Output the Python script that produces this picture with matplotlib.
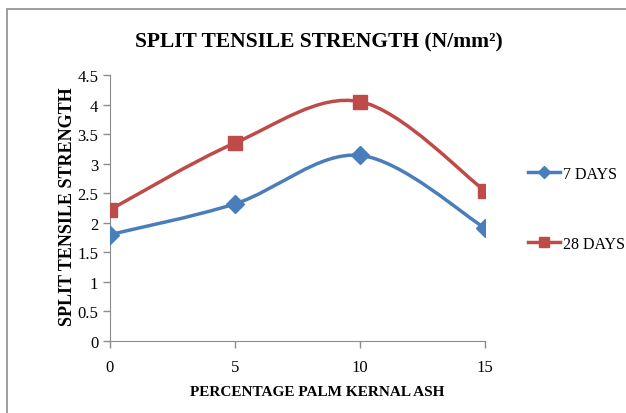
import numpy as np
import matplotlib.pyplot as plt
from matplotlib.path import Path
from matplotlib.patches import PathPatch, Rectangle
from matplotlib.lines import Line2D

plt.rcParams['font.family'] = ['Liberation Serif', 'DejaVu Serif']

pka = [0, 5, 10, 15]
days7 = [1.80, 2.32, 3.14, 1.91]
days28 = [2.22, 3.35, 4.05, 2.54]

blue = '#4a7ebb'
red = '#be4b48'


def smooth_path(x, y):
    # Excel-style smoothed line: Catmull-Rom segments as cubic Beziers
    x = np.asarray(x, float)
    y = np.asarray(y, float)
    n = len(x)
    verts = [(x[0], y[0])]
    codes = [Path.MOVETO]
    for i in range(n - 1):
        p0 = i - 1 if i > 0 else i
        p3 = i + 2 if i + 2 < n else i + 1
        c1 = (x[i] + (x[i + 1] - x[p0]) / 6, y[i] + (y[i + 1] - y[p0]) / 6)
        c2 = (x[i + 1] - (x[p3] - x[i]) / 6, y[i + 1] - (y[p3] - y[i]) / 6)
        verts += [c1, c2, (x[i + 1], y[i + 1])]
        codes += [Path.CURVE4] * 3
    return Path(verts, codes)


fig = plt.figure(figsize=(6.26, 4.14), dpi=100)
ax = fig.add_axes([0.1757, 0.174, 0.599, 0.6424])

# outer chart border (cropped at right and bottom)
fig.patches.append(Rectangle((7 / 626, -0.1), 1.2, 1.1 - 10 / 414, transform=fig.transFigure,
                             fill=False, ec='#8c8c8c', lw=1.2))

for vals, col, mk, ms in [(days7, blue, 'D', 9), (days28, red, 's', 9.5)]:
    ax.add_patch(PathPatch(smooth_path(pka, vals), fill=False, ec=col, lw=2.5, zorder=2))
    ax.plot(pka, vals, ls='none', marker=mk, ms=ms, color=col, zorder=3)

ax.set_xlim(0, 15)
ax.set_ylim(0, 4.5)
ax.set_xticks(pka)
ax.set_xticklabels([str(v) for v in pka])
ax.set_yticks(np.arange(0, 4.51, 0.5))
ax.set_yticklabels(['0', '0.5', '1', '1.5', '2', '2.5', '3', '3.5', '4', '4.5'])
ax.tick_params(labelsize=12, color='#8c8c8c', length=5, width=1)
ax.tick_params(axis='x', pad=8)
for s in ['top', 'right']:
    ax.spines[s].set_visible(False)
for s in ['left', 'bottom']:
    ax.spines[s].set_color('#8c8c8c')

fig.text(0.51, 0.898, 'SPLIT TENSILE STRENGTH (N/mm²)', ha='center', va='center',
         fontsize=15.5, fontweight='bold')
fig.text(0.506, 0.052, 'PERCENTAGE PALM KERNAL ASH', ha='center', va='center',
         fontsize=11, fontweight='bold')
fig.text(0.108, 0.5, 'SPLIT TENSILE STRENGTH', ha='center', va='center', rotation=90,
         fontsize=13, fontweight='bold')

handles = [Line2D([], [], color=blue, lw=2.5, marker='D', ms=6),
           Line2D([], [], color=red, lw=2.5, marker='s', ms=7)]
leg = fig.legend(handles, ['7 DAYS', '28 DAYS'], loc='center left',
                 bbox_to_anchor=(0.82, 0.493), frameon=False, fontsize=11.5,
                 handlelength=2.0, handletextpad=0.2, labelspacing=3.4)

fig.savefig('out.png', dpi=100)
